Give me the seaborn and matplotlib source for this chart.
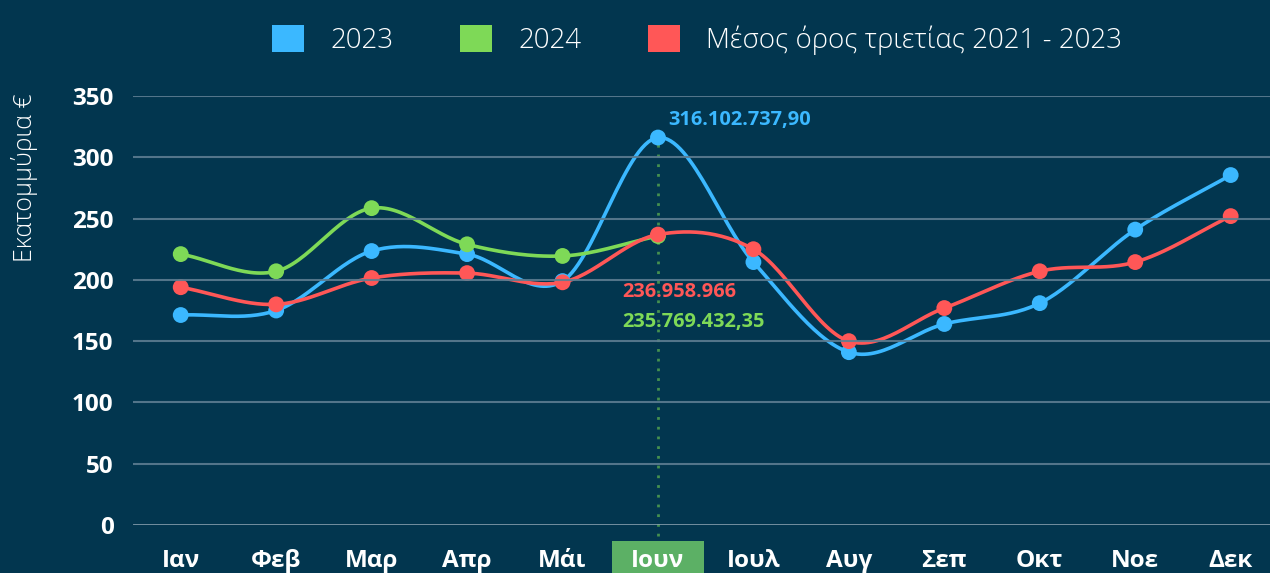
import numpy as np
import pandas as pd
import matplotlib
matplotlib.use("Agg")
import matplotlib.pyplot as plt
import matplotlib.transforms as mtransforms
from matplotlib.patches import Patch, Rectangle
import seaborn as sns

# Data (millions of euro)
months = ["Ιαν", "Φεβ", "Μαρ", "Απρ", "Μάι", "Ιουν", "Ιουλ", "Αυγ", "Σεπ", "Οκτ", "Νοε", "Δεκ"]
vals_2023 = [171.3, 175, 223.5, 221, 199, 316.102737890, 214.5, 141, 164, 181, 241, 285.5]
vals_2024 = [221, 207, 258.5, 229, 219.5, 235.76943235]
vals_avg = [194, 180, 201.5, 205.5, 198, 236.958966, 225, 150, 177, 207, 214.5, 252]
series_names = ["2023", "2024", "Μέσος όρος τριετίας 2021 - 2023"]
yticks = [0, 50, 100, 150, 200, 250, 300, 350]
highlight = 5
label_2023 = "316.102.737,90"
label_avg = "236.958.966"
label_2024 = "235.769.432,35"

BG = "#02364f"
C_BLUE = "#3bb8ff"
C_GREEN = "#7ed957"
C_RED = "#ff5757"
GRID = "#5d7d91"

sns.set_theme(style="dark")
plt.rcParams["font.family"] = ["Open Sans", "DejaVu Sans"]
plt.rcParams["axes.axisbelow"] = False


def smooth(vals, n=30):
    # uniform Catmull-Rom curve through the points, for drawing only
    y = np.asarray(vals, dtype=float)
    p = np.concatenate([[2 * y[0] - y[1]], y, [2 * y[-1] - y[-2]]])
    xs, ys = [], []
    for i in range(len(y) - 1):
        t = np.linspace(0, 1, n, endpoint=False)
        p0, p1, p2, p3 = p[i], p[i + 1], p[i + 2], p[i + 3]
        seg = 0.5 * ((2 * p1) + (-p0 + p2) * t + (2 * p0 - 5 * p1 + 4 * p2 - p3) * t ** 2
                     + (-p0 + 3 * p1 - 3 * p2 + p3) * t ** 3)
        xs.append(i + t)
        ys.append(seg)
    xs.append([len(y) - 1])
    ys.append([y[-1]])
    return np.concatenate(xs), np.concatenate(ys)


fig = plt.figure(figsize=(12.7, 5.73), dpi=100, facecolor=BG)
ax = fig.add_axes([133 / 1270, 48 / 573, 1137 / 1270, 429 / 573])
ax.set_facecolor(BG)

for vals, col, z in [(vals_2023, C_BLUE, 3), (vals_2024, C_GREEN, 4), (vals_avg, C_RED, 5)]:
    sx, sy = smooth(vals)
    sns.lineplot(x=sx, y=sy, ax=ax, color=col, lw=2.6, sort=False, estimator=None, zorder=z)
    sns.scatterplot(x=np.arange(len(vals)), y=vals, ax=ax, color=col, s=130,
                    edgecolor="none", zorder=z + 0.5, clip_on=False)

# dotted guide at the highlighted month
ax.axvline(highlight, ymin=-0.025, ymax=vals_2023[highlight] / 350, color="#45904f",
           lw=2, ls=(0, (1, 2.5)), zorder=2, clip_on=False)

ax.set_xlim(-0.5, -0.5 + 1137 / 95.45)
ax.set_ylim(0, 350)
ax.set_yticks(yticks)
ax.set_xticks(range(len(months)))
ax.set_xticklabels(months)
for y in yticks:
    ax.axhline(y, color=GRID if y else "#8aa1b0", lw=1.5 if y else 2, alpha=0.9, zorder=6)
ax.grid(False)
for s in ax.spines.values():
    s.set_visible(False)
ax.tick_params(axis="both", length=0, colors="white", labelsize=17.5)
ax.tick_params(axis="y", pad=14)
ax.tick_params(axis="x", pad=17)
for lab in ax.get_xticklabels() + ax.get_yticklabels():
    lab.set_fontweight("bold")

# highlighted month box
trans = mtransforms.blended_transform_factory(ax.transData, ax.transAxes)
ax.add_patch(Rectangle((highlight - 0.48, -0.2), 0.96, 0.2 - 16 / 429, transform=trans,
                       facecolor="#5cb065", edgecolor="none", clip_on=False, zorder=0.2))

# value labels
ax.annotate(label_2023, (highlight, vals_2023[highlight]), xytext=(10, 18), textcoords="offset pixels",
            color=C_BLUE, fontsize=14.4, fontweight="bold", ha="left", va="center")
ax.annotate(label_avg, (highlight, vals_avg[highlight]), xytext=(-36, -57), textcoords="offset pixels",
            color=C_RED, fontsize=14.4, fontweight="bold", ha="left", va="center")
ax.annotate(label_2024, (highlight, vals_2024[highlight]), xytext=(-36, -86), textcoords="offset pixels",
            color=C_GREEN, fontsize=14.4, fontweight="bold", ha="left", va="center")

fig.text(25 / 1270, 1 - 178 / 573, "Εκατομμύρια €", rotation=90, color="white",
         fontsize=18, fontweight="light", ha="center", va="center")

handles = [Patch(facecolor=c, edgecolor="none") for c in (C_BLUE, C_GREEN, C_RED)]
fig.legend(handles, series_names, loc="center", bbox_to_anchor=(697 / 1270, 1 - 40 / 573),
           ncol=3, frameon=False, labelcolor="white", handlelength=1.15,
           handleheight=1.15, handletextpad=0.95, columnspacing=2.4,
           prop={"size": 20, "weight": "light"})

fig.savefig("out.png", dpi=100, facecolor=BG)
